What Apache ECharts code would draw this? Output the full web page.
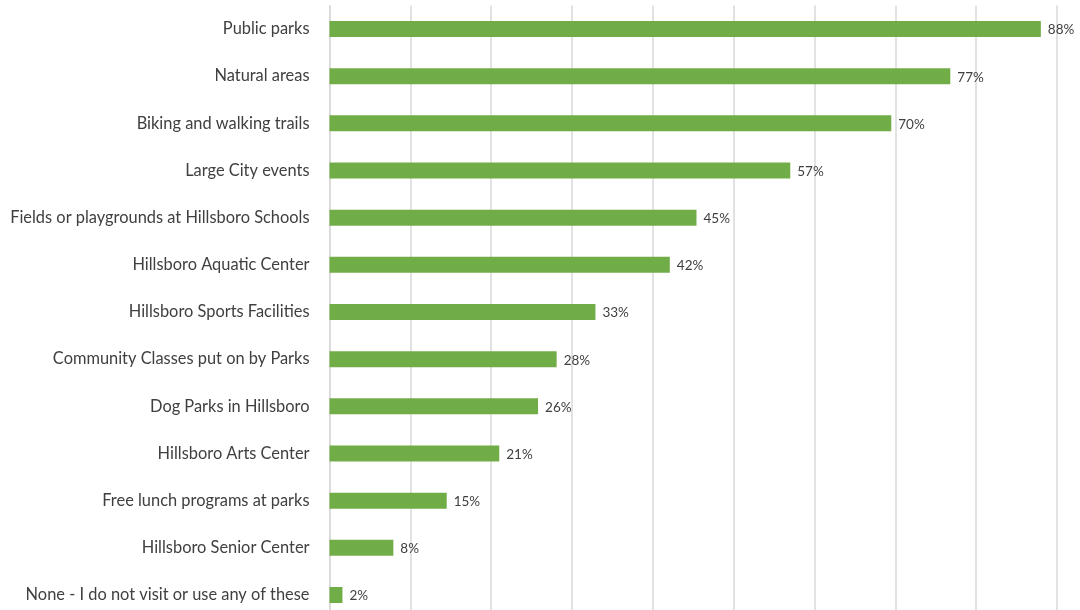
<!DOCTYPE html>
<html>
<head>
<meta charset="utf-8">
<script src="https://cdn.jsdelivr.net/npm/echarts@6/dist/echarts.min.js"></script>
<style>
html,body{margin:0;padding:0;background:#fff;overflow:hidden;}
#chart{width:1080px;height:625px;}
</style>
</head>
<body>
<div id="chart"></div>
<script>
const categories = [
  "Public parks",
  "Natural areas",
  "Biking and walking trails",
  "Large City events",
  "Fields or playgrounds at Hillsboro Schools",
  "Hillsboro Aquatic Center",
  "Hillsboro Sports Facilities",
  "Community Classes put on by Parks",
  "Dog Parks in Hillsboro",
  "Hillsboro Arts Center",
  "Free lunch programs at parks",
  "Hillsboro Senior Center",
  "None - I do not visit or use any of these"
];
const values = [88, 76.8, 69.5, 57, 45.4, 42.1, 32.9, 28.1, 25.8, 21, 14.5, 7.9, 1.6];

const chart = echarts.init(document.getElementById('chart'), null, {renderer: 'canvas'});
chart.setOption({
  animation: false,
  backgroundColor: '#ffffff',
  grid: {left: 329.5, right: 23, top: 5.4, height: 613.2, containLabel: false},
  xAxis: {
    type: 'value',
    min: 0, max: 90, interval: 10,
    axisLabel: {show: false},
    axisLine: {show: false},
    axisTick: {show: false},
    splitLine: {show: true, lineStyle: {color: '#d9d9d9', width: 1.5}}
  },
  yAxis: {
    type: 'category',
    inverse: true,
    data: categories,
    axisLine: {show: true, lineStyle: {color: '#d9d9d9', width: 1.5}},
    axisTick: {show: false},
    axisLabel: {
      margin: 20,
      color: '#404040',
      fontSize: 16.4,
      fontFamily: 'Lato, "Open Sans", sans-serif'
    }
  },
  series: [{
    type: 'bar',
    data: values,
    barWidth: 16,
    itemStyle: {color: '#70ad47'},
    label: {
      show: true,
      position: 'right',
      distance: 7,
      offset: [0, 1],
      formatter: p => Math.round(p.value) + '%',
      color: '#404040',
      fontSize: 13.5,
      fontFamily: 'Lato, "Open Sans", sans-serif'
    }
  }]
});
</script>
</body>
</html>
